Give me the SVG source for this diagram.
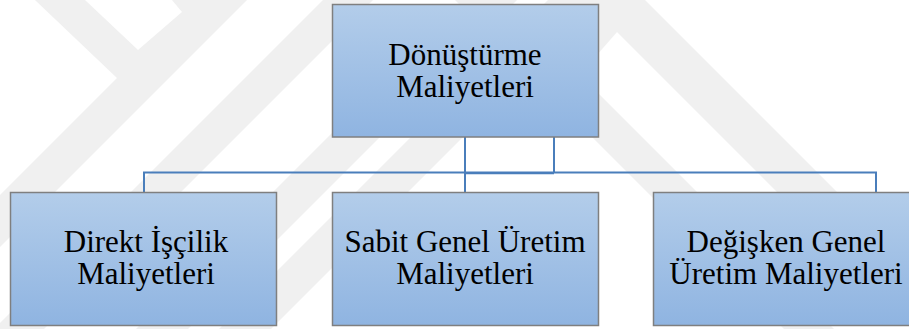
<svg xmlns="http://www.w3.org/2000/svg" width="909" height="329" viewBox="0 0 909 329">
  <defs>
    <linearGradient id="boxFill" x1="0" y1="0" x2="0" y2="1">
      <stop offset="0" stop-color="#b3cdea"/>
      <stop offset="1" stop-color="#8fb4e1"/>
    </linearGradient>
    <style>
      .wm { fill: #f0f0f0; }
      .box { fill: url(#boxFill); stroke: #7f7f7f; stroke-width: 1.5; }
      .link { fill: none; stroke: #4a7ebb; stroke-width: 2; }
      .label { font-family: "Liberation Serif", "Times New Roman", serif; font-size: 31px; fill: #000000; text-anchor: middle; }
    </style>
  </defs>

  <rect x="0" y="0" width="909" height="329" fill="#ffffff"/>

  <!-- background emblem bands -->
  <g id="emblem">
    <polygon class="wm" points="35,0 85,0 138,50 182,12 172,0 247,0 0,247 0,195 117,78"/>
    <polygon class="wm" points="323,0 373,0 0,373 0,323"/>
    <polygon class="wm" points="465,0 517,0 0,517 0,465"/>
    <polygon class="wm" points="548,0 600,0 271,329 219,329"/>
    <polygon class="wm" points="455,0 505,0 834,329 784,329"/>
    <polygon class="wm" points="585,0 645,0 974,329 914,329"/>
    <polygon class="wm" points="596,0 645,0 617,32 596,56"/>
  </g>

  <!-- connectors -->
  <g id="connectors">
    <path class="link" d="M465,137 V192"/>
    <path class="link" d="M554,137 V172.5"/>
    <path class="link" d="M144,192 V172.5 H876 V192"/>
    <path class="link" d="M465,173.3 H554" stroke-width="1.5"/>
  </g>

  <g id="node-donusturme">
    <rect class="box" x="332.5" y="4.5" width="266" height="132.5"/>
    <text class="label" x="465" y="65">Dönüştürme</text>
    <text class="label" x="465" y="97">Maliyetleri</text>
  </g>

  <g id="node-direkt-iscilik">
    <rect class="box" x="10.5" y="192.5" width="266" height="133"/>
    <text class="label" x="146" y="252">Direkt İşçilik</text>
    <text class="label" x="146" y="284">Maliyetleri</text>
  </g>

  <g id="node-sabit-genel">
    <rect class="box" x="332.5" y="192.5" width="266" height="133"/>
    <text class="label" x="465" y="252">Sabit Genel Üretim</text>
    <text class="label" x="465" y="284">Maliyetleri</text>
  </g>

  <g id="node-degisken-genel">
    <rect class="box" x="653.5" y="192.5" width="266" height="133"/>
    <text class="label" x="786" y="252">Değişken Genel</text>
    <text class="label" x="786" y="284">Üretim Maliyetleri</text>
  </g>
</svg>
